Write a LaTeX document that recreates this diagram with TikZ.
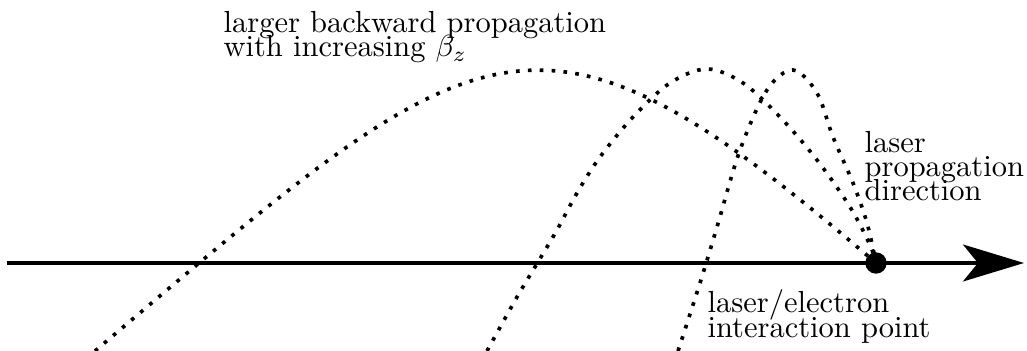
\documentclass[tikz,border=0pt]{standalone}
\usetikzlibrary{arrows.meta}
\begin{document}
\begin{tikzpicture}[x=0.3279pt,y=-0.3279pt,
  traj/.style={line width=1.2pt,dash pattern=on 1.2pt off 2.7pt},
  axis/.style={line width=1.2pt,-{Stealth[length=20pt,width=12.1pt,inset=4.9pt]}},
  lbl/.style={anchor=base west,inner sep=0pt,font=\fontsize{10}{12}\selectfont}]
\useasboundingbox (0,0) rectangle (1027,351);
% axis
\coordinate (a0) at (7,263);
\coordinate (a1) at (1024,263);
\draw[axis] (a0) -- (a1);
% interaction point
\coordinate (ipc) at (876,263);
% trajectories
\coordinate (t1) at (95,351);
\coordinate (t2) at (487,351);
\coordinate (t3) at (678,351);
\draw[traj] (t1) .. controls (485,20) and (535,-30) .. (ipc);
\draw[traj] plot[smooth,tension=0.55] coordinates {(t2) (517,297) (538,262) (557,230) (577,193) (600,157) (633,117) (670,83) (707,69) (743,83) (780,117) (817,160) (850,207) (870,245) (ipc)};
\draw[traj] plot[smooth,tension=0.55] coordinates {(t3) (700,283) (717,227) (740,150) (767,90) (793,70) (817,93) (833,137) (853,183) (867,223) (ipc)};
\node[circle,fill=black,inner sep=0pt,minimum size=7pt] (ip) at (ipc) {};
% labels
\node[lbl] (l1) at (223,33) {larger backward propagation};
\node[lbl] (l2) at (223,57) {with increasing $\beta_z$};
\node[lbl] (r1) at (864,153) {laser};
\node[lbl] (r2) at (864,177) {propagation};
\node[lbl] (r3) at (864,201) {direction};
\node[lbl] (b1) at (707,313) {laser/electron};
\node[lbl] (b2) at (707,337) {interaction point};
\end{tikzpicture}
\end{document}
